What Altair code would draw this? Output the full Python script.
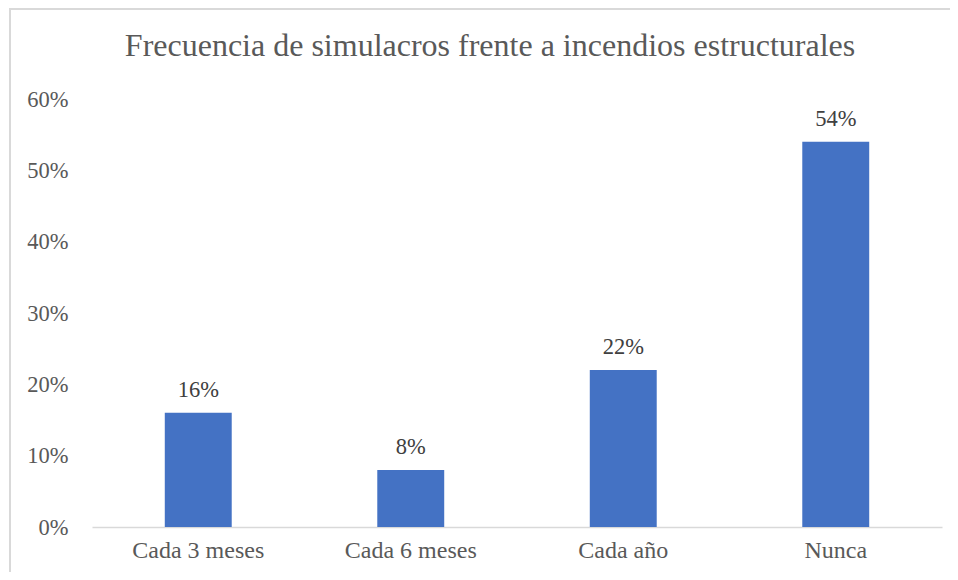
import altair as alt
import pandas as pd

categories = ["Cada 3 meses", "Cada 6 meses", "Cada año", "Nunca"]
values = [0.16, 0.08, 0.22, 0.54]

df = pd.DataFrame({"cat": categories, "val": values})

FONT = "Liberation Serif"

base = alt.Chart(df)

bars = base.mark_bar(color="#4472C4").encode(
    x=alt.X("cat:N", sort=categories, title=None,
            scale=alt.Scale(paddingInner=0.685, paddingOuter=0.3425),
            axis=alt.Axis(labelAngle=0, ticks=False, domainColor="#D9D9D9", domainWidth=1.5,
                          labelPadding=11, labelFont=FONT, labelFontSize=24, labelColor="#595959")),
    y=alt.Y("val:Q", title=None,
            scale=alt.Scale(domain=[0, 0.6], nice=False),
            axis=alt.Axis(format=".0%", values=[0, 0.1, 0.2, 0.3, 0.4, 0.5, 0.6], grid=False,
                          domain=False, ticks=False, labelPadding=24,
                          labelFont=FONT, labelFontSize=22.5, labelColor="#595959")),
)

labels = base.mark_text(font=FONT, fontSize=22.5, color="#404040", baseline="alphabetic", dy=-16).encode(
    x=alt.X("cat:N", sort=categories),
    y="val:Q",
    text=alt.Text("val:Q", format=".0%"),
)

frame = base.mark_rect(fill=None, stroke="#D9D9D9", strokeWidth=1.5).encode(
    x=alt.value(-82), x2=alt.value(900), y=alt.value(-90), y2=alt.value(520)
)

chart = alt.layer(frame, bars, labels).properties(
    width=850, height=428,
    padding={"left": 84, "top": 91, "right": 8, "bottom": 45},
    autosize=alt.AutoSizeParams(type="none"),
    title=alt.TitleParams("Frecuencia de simulacros frente a incendios estructurales",
                          font=FONT, fontSize=32, fontWeight="normal", color="#595959",
                          anchor="middle", frame="group", dx=-27, baseline="alphabetic", offset=-80),
).configure_view(stroke=None)

chart.save("out.html", embed_options={"renderer": "svg", "actions": False})
